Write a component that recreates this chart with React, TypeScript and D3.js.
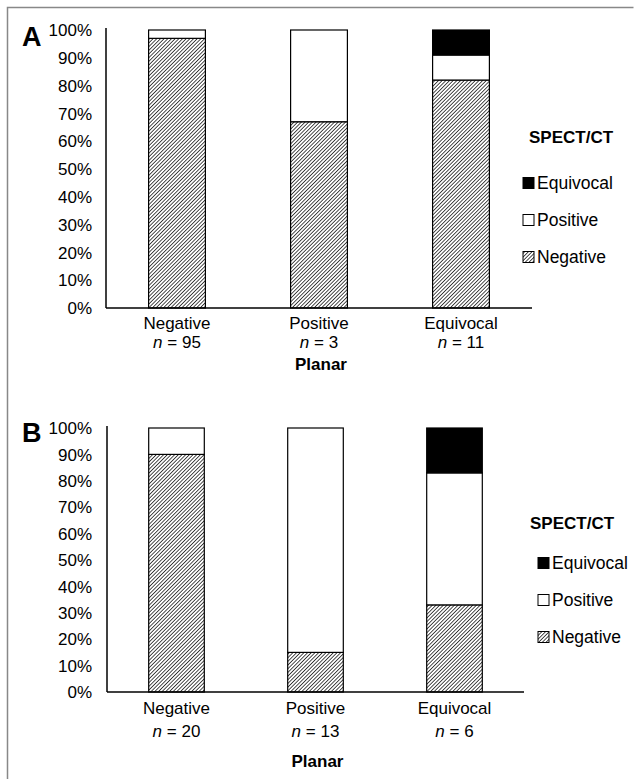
import * as d3 from 'd3';

const categories = ['Negative', 'Positive', 'Equivocal'];
const seriesKeys = ['Negative', 'Positive', 'Equivocal'];
const legendOrder = ['Equivocal', 'Positive', 'Negative'];
const tickValues = [0, 10, 20, 30, 40, 50, 60, 70, 80, 90, 100];

// panel A (percent of patients)
const negativeA = [97, 67, 82];
const positiveA = [3, 33, 9];
const equivocalA = [0, 0, 9];
const countsA = [95, 3, 11];

// panel B
const negativeB = [90, 15, 33];
const positiveB = [10, 85, 50];
const equivocalB = [0, 0, 17];
const countsB = [20, 13, 6];

const FONT = 'Liberation Sans, Arial, sans-serif';
const WIDTH = 636;
const HEIGHT = 779;

type PanelLayout = {
  letter: string;
  letterY: number;
  top: number;
  bottom: number;
  left: number;
  right: number;
  catY: number;
  nY: number;
  titleY: number;
  legendTitleX: number;
  legendX: number;
  legendTitleY: number;
  legendY: number[];
};

const layoutA: PanelLayout = {
  letter: 'A', letterY: 46, top: 30, bottom: 308, left: 106, right: 532,
  catY: 329, nY: 348, titleY: 370,
  legendTitleX: 529, legendX: 523, legendTitleY: 143, legendY: [183, 220, 257],
};
const layoutB: PanelLayout = {
  letter: 'B', letterY: 442, top: 428, bottom: 692, left: 107, right: 524,
  catY: 714, nY: 737, titleY: 767,
  legendTitleX: 530, legendX: 538, legendTitleY: 529, legendY: [563, 600, 637],
};

const fillFor = (key: string) =>
  key === 'Negative' ? 'url(#hatch)' : key === 'Positive' ? '#ffffff' : '#000000';

const Panel = ({ layout, neg, pos, eq, counts }: {
  layout: PanelLayout; neg: number[]; pos: number[]; eq: number[]; counts: number[];
}) => {
  const rows = categories.map((c, i) => ({ cat: c, Negative: neg[i], Positive: pos[i], Equivocal: eq[i] }));
  const stacked = d3.stack<any>().keys(seriesKeys)(rows);

  const xScale = d3.scaleBand().domain(categories).range([layout.left, layout.right]).paddingInner(0.6).paddingOuter(0.3);
  const yScale = d3.scaleLinear().domain([0, 100]).range([layout.bottom, layout.top]);

  return (
    <g>
      <text x={22} y={layout.letterY} fontSize={27} fontWeight="bold" fontFamily={FONT}>{layout.letter}</text>
      {tickValues.map((t) => (
        <text key={t} x={92} y={yScale(t)} dy="0.36em" textAnchor="end" fontSize={17} fontFamily={FONT}>
          {t}%
        </text>
      ))}
      {stacked.map((s) =>
        s.map((d, i) => {
          if (d[1] - d[0] <= 0) return null;
          return (
            <rect
              key={`${s.key}-${i}`}
              x={xScale(categories[i])}
              y={yScale(d[1])}
              width={xScale.bandwidth()}
              height={yScale(d[0]) - yScale(d[1])}
              fill={fillFor(s.key)}
              stroke="#000"
              strokeWidth={1.2}
            />
          );
        })
      )}
      <line x1={layout.left} x2={layout.left} y1={layout.top - 2} y2={layout.bottom} stroke="#000" strokeWidth={1.5} />
      <line x1={layout.left} x2={layout.right} y1={layout.bottom} y2={layout.bottom} stroke="#000" strokeWidth={1.5} />
      {categories.map((c, i) => {
        const cx = (xScale(c) || 0) + xScale.bandwidth() / 2;
        return (
          <g key={c} fontFamily={FONT} fontSize={17} textAnchor="middle">
            <text x={cx} y={layout.catY}>{c}</text>
            <text x={cx} y={layout.nY}>
              <tspan fontStyle="italic">n</tspan> = {counts[i]}
            </text>
          </g>
        );
      })}
      <text x={(layout.left + layout.right) / 2 + 2} y={layout.titleY} textAnchor="middle" fontSize={17} fontWeight="bold" fontFamily={FONT}>
        Planar
      </text>
      <text x={layout.legendTitleX} y={layout.legendTitleY} fontSize={17} fontWeight="bold" fontFamily={FONT}>SPECT/CT</text>
      {legendOrder.map((k, i) => (
        <g key={k}>
          <rect x={layout.legendX} y={layout.legendY[i] - 5.5} width={11} height={11} fill={fillFor(k)} stroke="#000" strokeWidth={1} />
          <text x={layout.legendX + 14} y={layout.legendY[i]} dy="0.36em" fontSize={17.5} fontFamily={FONT}>{k}</text>
        </g>
      ))}
    </g>
  );
};

export default function App() {
  return (
    <svg width={WIDTH} height={HEIGHT} style={{ position: 'absolute', left: 0, top: 0, background: '#fff' }}>
      <defs>
        <pattern id="hatch" patternUnits="userSpaceOnUse" width={2.6} height={2.6} patternTransform="rotate(45)">
          <rect width={2.6} height={2.6} fill="#fff" />
          <line x1={0} y1={0} x2={0} y2={2.6} stroke="#111" strokeWidth={1.5} />
        </pattern>
      </defs>
      <rect x={0} y={0} width={WIDTH} height={HEIGHT} fill="#fff" />
      <path d={`M7.5,${HEIGHT} V7.5 H633.5`} fill="none" stroke="#888" strokeWidth={1.5} />
      <Panel layout={layoutA} neg={negativeA} pos={positiveA} eq={equivocalA} counts={countsA} />
      <Panel layout={layoutB} neg={negativeB} pos={positiveB} eq={equivocalB} counts={countsB} />
    </svg>
  );
}
